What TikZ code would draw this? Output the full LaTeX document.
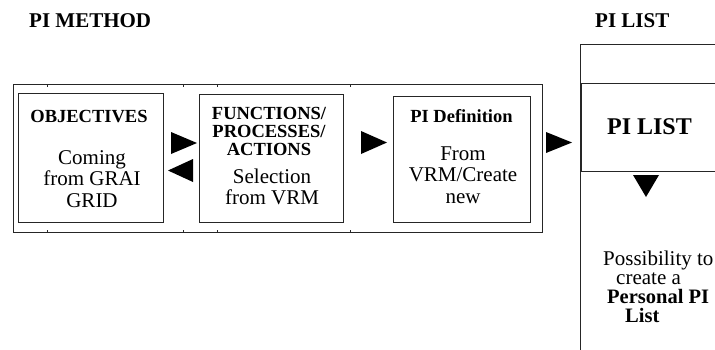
\documentclass[tikz,border=0pt]{standalone}
\usepackage{fontspec}
\setmainfont{Liberation Serif}
\newcommand\stackc[1]{\begin{tabular}[t]{@{}c@{}}#1\end{tabular}}
\begin{document}
\begin{tikzpicture}[x=1pt,y=-1pt,
  box/.style={draw=black!85, line width=1pt, rectangle, inner sep=0pt, anchor=north west},
  ttl/.style={font=\fontsize{21}{21}\selectfont\bfseries, inner sep=0pt, anchor=base west},
  head/.style={font=\fontsize{18.5}{18}\selectfont\bfseries, inner sep=0pt, anchor=base},
  body/.style={font=\fontsize{21}{21.5}\selectfont, inner sep=0pt, anchor=base},
  bodyb/.style={font=\fontsize{20.5}{21}\selectfont\bfseries, inner sep=0pt, anchor=base west},
  tri/.style={fill=black},
  tick/.style={draw=black!85, line width=0.8pt}]
\useasboundingbox (0,0) rectangle (715,349);
\clip (0,0) rectangle (715,349);
% boxes
\node[box, minimum width=529pt, minimum height=148pt] (method) at (13,84) {};
\node[box, minimum width=145pt, minimum height=129pt] (obj) at (18,93) {};
\node[box, minimum width=144pt, minimum height=128pt] (fun) at (199,94) {};
\node[box, minimum width=137pt, minimum height=126pt] (pid) at (393,96) {};
\node[box, minimum width=160pt, minimum height=360pt] (col) at (580,44) {};
\node[box, minimum width=160pt, minimum height=88pt] (pil) at (581,83) {};
% ticks on the method frame
\foreach \x in {47,183,217,350} {
  \draw[tick] (\x,84) -- ++(0,2.5);
  \draw[tick] (\x,232) -- ++(0,-2.5);
}
% titles
\node[ttl] (tmethod) at (29,27) {PI METHOD};
\node[ttl] (tlist) at (595,27) {PI LIST};
% box texts
\node[head] (objh) at (89,122) {OBJECTIVES};
\node[body] (objb) at (92,164) {\stackc{Coming\\from GRAI\\GRID}};
\node[head] (funh) at (269,119) {\stackc{FUNCTIONS/\\PROCESSES/\\ACTIONS}};
\node[body] (funb) at (272,183) {\stackc{Selection\\from VRM}};
\node[head] (pidh) at (461.5,122) {PI Definition};
\node[body] (pidb) at (463,160) {\stackc{From\\VRM/Create\\new}};
\node[font=\fontsize{24}{24}\selectfont\bfseries, inner sep=0pt, anchor=base] (pilt) at (649.5,134) {PI LIST};
% personal list text
\node[body, anchor=base west] (p1) at (603,265) {Possibility to};
\node[body, anchor=base west] (p2) at (616,284) {create a};
\node[bodyb] (p3) at (607,303) {Personal PI};
\node[bodyb] (p4) at (625,322) {List};
% triangles
\fill[tri] (171,132) -- (197,143) -- (171,154) -- cycle;
\fill[tri] (193,159) -- (168,170.5) -- (193,182) -- cycle;
\fill[tri] (361,131) -- (387,142.5) -- (361,154) -- cycle;
\fill[tri] (546,132) -- (572,142.5) -- (546,153) -- cycle;
\fill[tri] (633,175) -- (646,197) -- (659,175) -- cycle;
\end{tikzpicture}
\end{document}
